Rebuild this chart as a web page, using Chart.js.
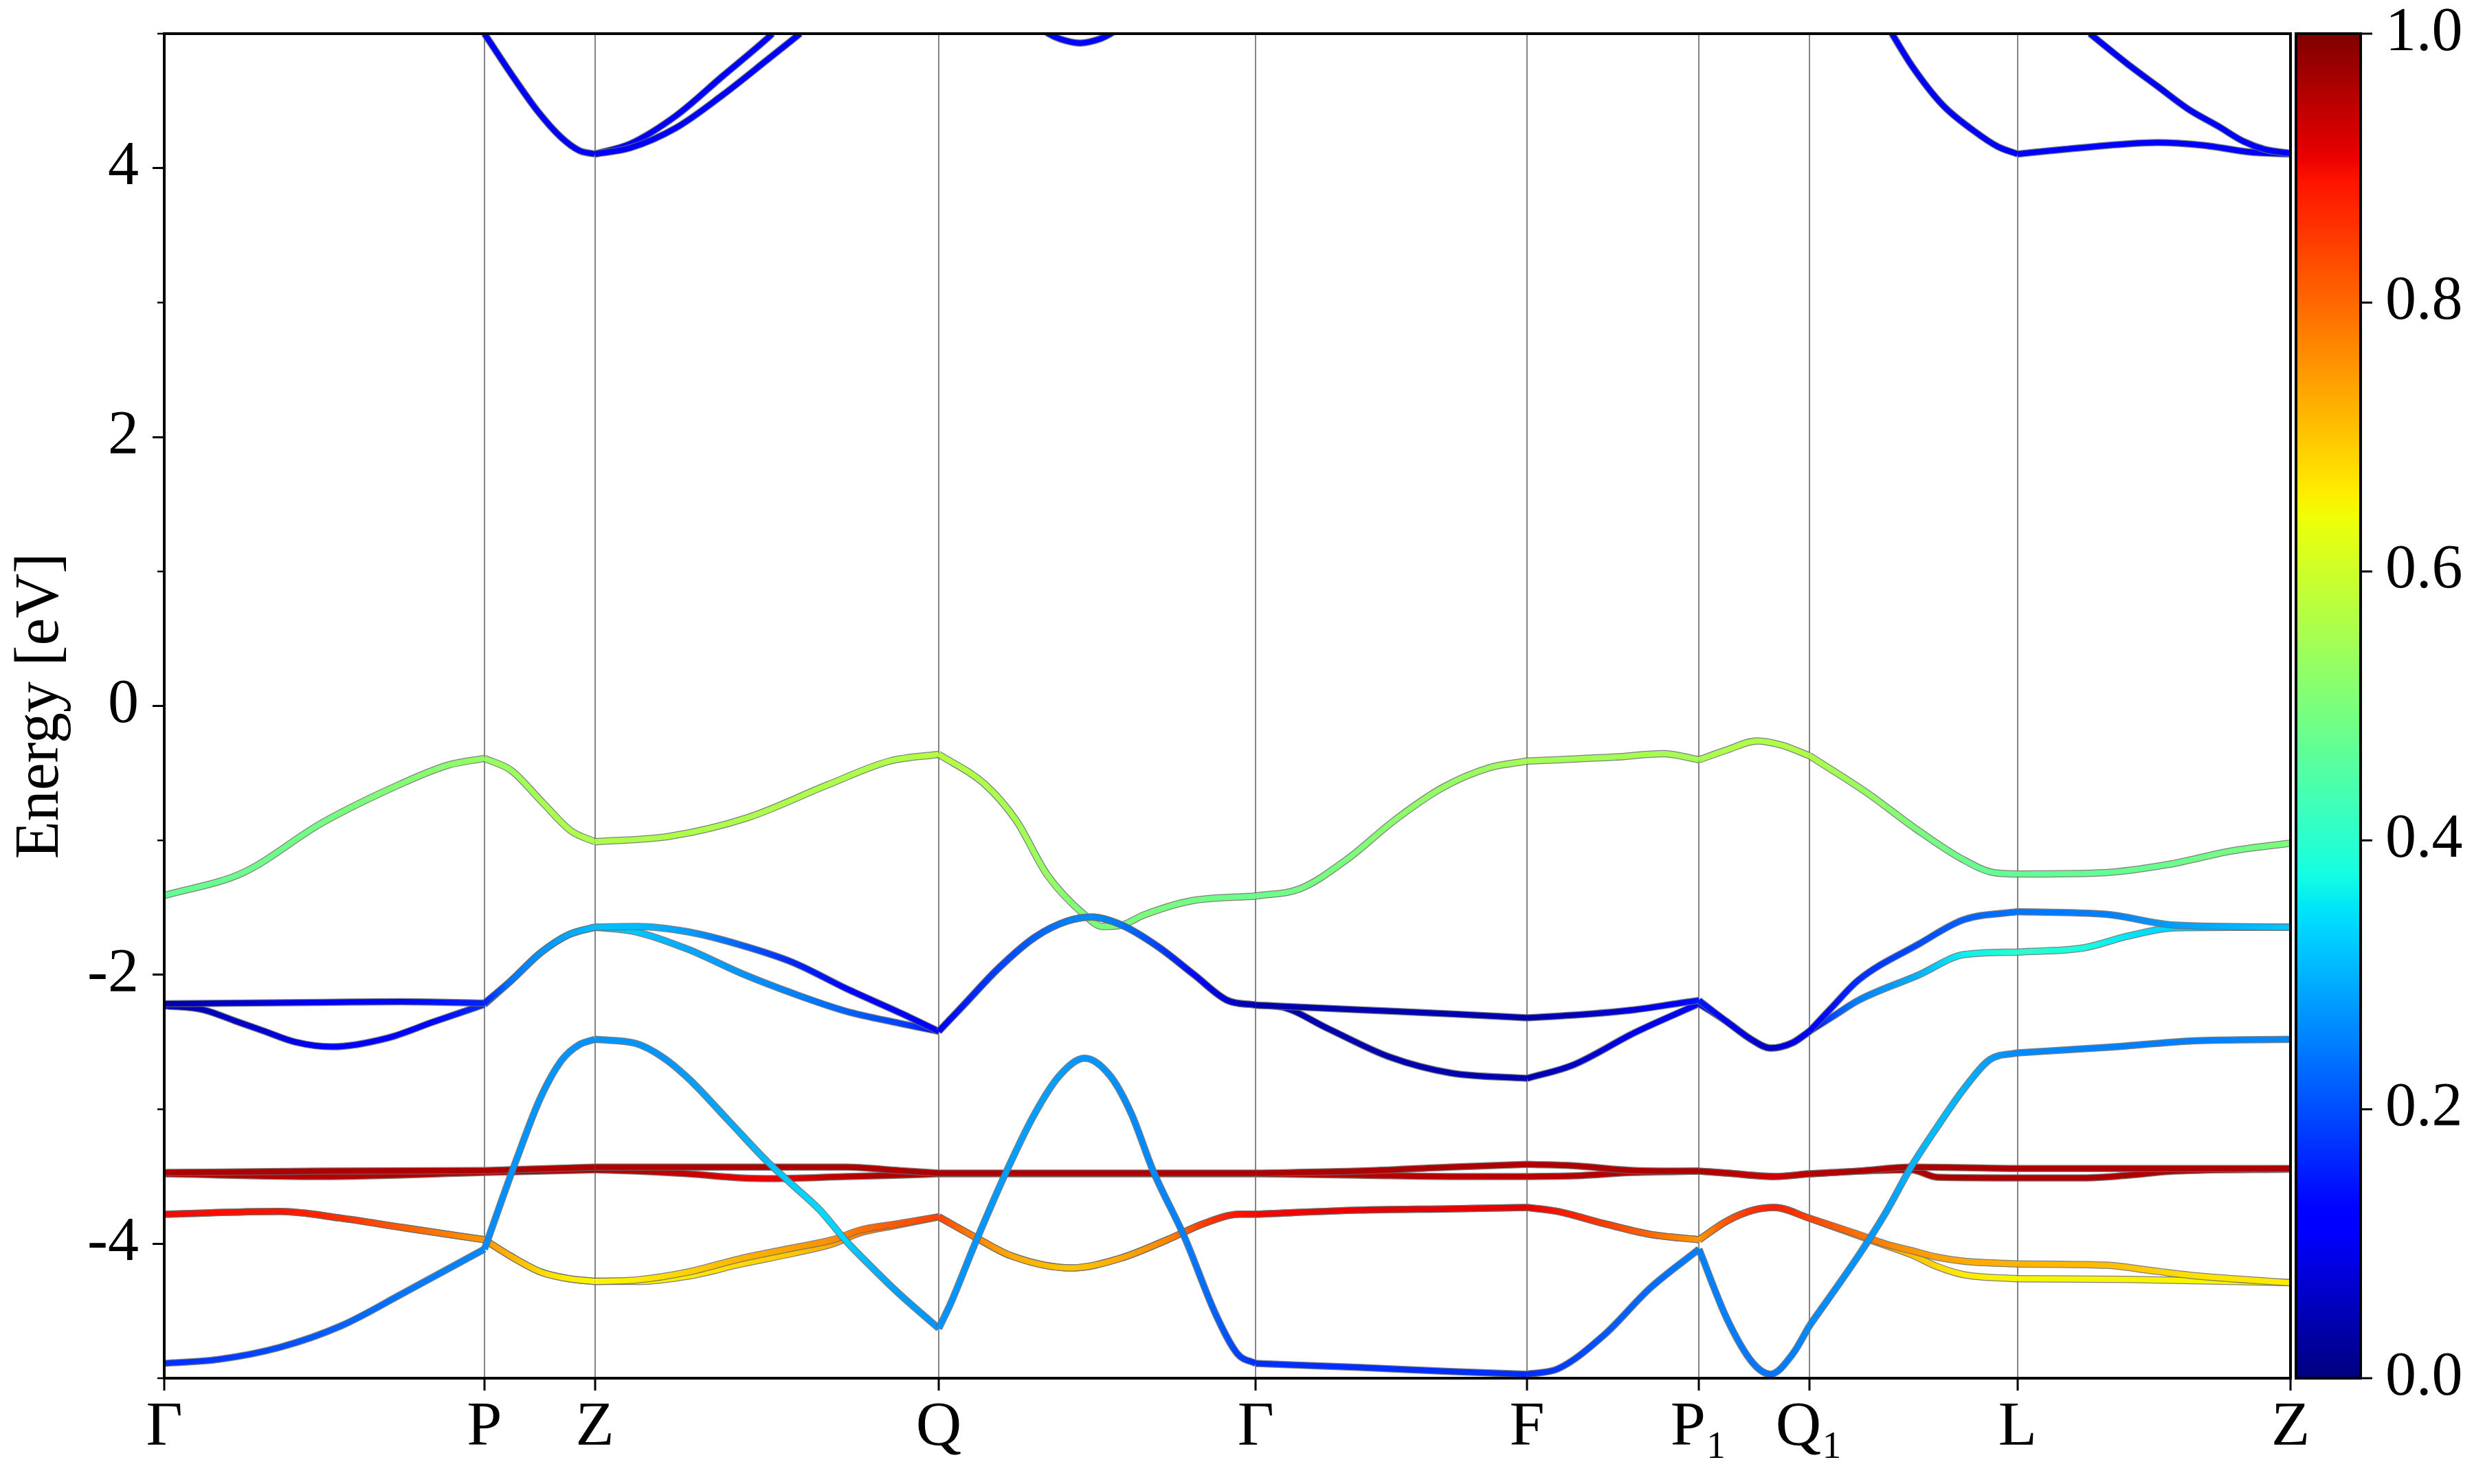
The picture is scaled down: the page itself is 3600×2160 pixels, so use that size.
<!DOCTYPE html>
<html>
<head>
<meta charset="utf-8">
<script src="https://cdn.jsdelivr.net/npm/chart.js@4.4.1/dist/chart.umd.min.js"></script>
<style>
  html, body { margin: 0; padding: 0; background: #fff; }
  #wrap { width: 3600px; height: 2160px; }
</style>
</head>
<body>
<div id="wrap"><canvas id="bands" width="3600" height="2160"></canvas></div>
<script>
// k-path and high-symmetry labels
const kTicks  = [0, 0.203, 0.273, 0.491, 0.692, 0.864, 0.973, 1.043, 1.175, 1.348];
const kLabels = ['Γ', 'P', 'Z', 'Q', 'Γ', 'F', 'P₁', 'Q₁', 'L', 'Z'];
const energyTicks = [-4, -2, 0, 2, 4];
const energyMinor = [-5, -3, -1, 1, 3, 5];
const weightTicks = [0, 0.2, 0.4, 0.6, 0.8, 1.0];

// bands: [k, energy (eV), weight]
const bandT1 = [
  [0.203, 5.00, 0.12], [0.2223, 4.66, 0.12], [0.237, 4.42, 0.12], [0.2515, 4.23, 0.12], [0.2632, 4.13, 0.12], [0.273, 4.105, 0.12],
  [0.2953, 4.18, 0.12], [0.3245, 4.39, 0.12], [0.3536, 4.68, 0.12], [0.3828, 4.97, 0.12], [0.3855, 5.00, 0.12],
];
const bandT2 = [
  [0.273, 4.105, 0.12], [0.2953, 4.15, 0.12], [0.3245, 4.30, 0.12], [0.3536, 4.54, 0.12], [0.3828, 4.81, 0.12], [0.4031, 5.00, 0.12],
];
const bandT3 = [
  [0.556, 5.04, 0.13], [0.5607, 5.00, 0.13], [0.568, 4.96, 0.13], [0.5805, 4.93, 0.13], [0.593, 4.96, 0.13], [0.600, 5.00, 0.13], [0.605, 5.04, 0.13],
];
const bandT4 = [
  [1.0953, 5.00, 0.12], [1.108, 4.76, 0.12], [1.1274, 4.47, 0.12], [1.1469, 4.28, 0.12], [1.1624, 4.16, 0.12], [1.175, 4.105, 0.12],
  [1.2051, 4.14, 0.12], [1.2441, 4.18, 0.12], [1.2635, 4.19, 0.12], [1.2927, 4.17, 0.12], [1.3219, 4.12, 0.12], [1.348, 4.105, 0.12],
];
const bandT5 = [
  [1.2208, 5.00, 0.12], [1.2441, 4.78, 0.12], [1.2635, 4.61, 0.12], [1.283, 4.44, 0.12], [1.3024, 4.31, 0.12], [1.318, 4.20, 0.12],
  [1.3316, 4.14, 0.12], [1.348, 4.11, 0.12],
];
const bandG = [
  [0, -1.41, 0.47], [0.05, -1.24, 0.48], [0.10, -0.87, 0.49], [0.15, -0.58, 0.51], [0.18, -0.44, 0.52], [0.203, -0.39, 0.53],
  [0.22, -0.48, 0.54], [0.24, -0.72, 0.55], [0.258, -0.93, 0.56], [0.273, -1.01, 0.56],
  [0.32, -0.97, 0.56], [0.37, -0.83, 0.56], [0.42, -0.59, 0.56], [0.46, -0.41, 0.56], [0.491, -0.36, 0.57],
  [0.52, -0.58, 0.56], [0.54, -0.85, 0.55], [0.56, -1.26, 0.53], [0.5835, -1.555, 0.50], [0.5946, -1.64, 0.50], [0.607, -1.63, 0.50],
  [0.621, -1.555, 0.50], [0.651, -1.45, 0.49], [0.692, -1.414, 0.48],
  [0.72, -1.36, 0.49], [0.75, -1.14, 0.50], [0.78, -0.85, 0.52], [0.81, -0.61, 0.53], [0.84, -0.46, 0.54], [0.864, -0.41, 0.55],
  [0.92, -0.38, 0.55], [0.95, -0.355, 0.55], [0.973, -0.40, 0.55],
  [0.99, -0.33, 0.56], [1.01, -0.26, 0.56], [1.025, -0.29, 0.56], [1.043, -0.37, 0.56],
  [1.08, -0.65, 0.53], [1.11, -0.91, 0.50], [1.14, -1.14, 0.48], [1.16, -1.24, 0.47], [1.175, -1.25, 0.47],
  [1.23, -1.24, 0.47], [1.27, -1.18, 0.48], [1.31, -1.08, 0.49], [1.348, -1.02, 0.50],
];
const bandD1 = [
  [0, -2.215, 0.04], [0.05, -2.21, 0.07], [0.10, -2.205, 0.10], [0.15, -2.20, 0.13], [0.203, -2.21, 0.16],
  [0.2193, -2.05, 0.24], [0.2387, -1.835, 0.27], [0.2566, -1.70, 0.29], [0.273, -1.645, 0.31],
  [0.299, -1.64, 0.31], [0.332, -1.68, 0.28], [0.366, -1.78, 0.22], [0.399, -1.91, 0.16], [0.432, -2.10, 0.13], [0.466, -2.28, 0.12], [0.491, -2.42, 0.12],
  [0.5064, -2.23, 0.15], [0.529, -1.95, 0.19], [0.552, -1.72, 0.22], [0.5725, -1.60, 0.25], [0.588, -1.57, 0.26], [0.607, -1.63, 0.24],
  [0.630, -1.79, 0.19], [0.653, -2.00, 0.13], [0.674, -2.19, 0.07], [0.692, -2.225, 0.04],
  [0.7572, -2.26, 0.04], [0.8155, -2.29, 0.04], [0.864, -2.32, 0.04], [0.8933, -2.30, 0.05], [0.9322, -2.26, 0.08], [0.961, -2.21, 0.12], [0.973, -2.19, 0.15],
  [0.9908, -2.35, 0.10], [1.0074, -2.49, 0.07], [1.0183, -2.545, 0.06], [1.0324, -2.505, 0.09], [1.043, -2.42, 0.12],
  [1.0578, -2.235, 0.14], [1.074, -2.04, 0.17], [1.1125, -1.77, 0.20], [1.1408, -1.59, 0.22], [1.175, -1.53, 0.24],
  [1.2311, -1.55, 0.25], [1.2747, -1.63, 0.28], [1.348, -1.645, 0.32],
];
const bandD2 = [
  [0, -2.23, 0.04], [0.0248, -2.26, 0.05], [0.0443, -2.34, 0.06], [0.0636, -2.42, 0.07], [0.0832, -2.50, 0.09], [0.1065, -2.535, 0.11],
  [0.1415, -2.47, 0.12], [0.1706, -2.35, 0.13], [0.203, -2.22, 0.17],
  [0.2193, -2.05, 0.24], [0.2387, -1.835, 0.27], [0.2566, -1.70, 0.29], [0.273, -1.645, 0.31],
  [0.299, -1.68, 0.32], [0.332, -1.81, 0.29], [0.366, -1.99, 0.27], [0.399, -2.14, 0.25], [0.432, -2.27, 0.22], [0.466, -2.36, 0.19], [0.491, -2.42, 0.14],
  [0.5064, -2.23, 0.15], [0.529, -1.95, 0.19], [0.552, -1.72, 0.22], [0.5725, -1.60, 0.25], [0.588, -1.57, 0.26], [0.607, -1.63, 0.24],
  [0.630, -1.79, 0.19], [0.653, -2.00, 0.13], [0.674, -2.19, 0.07], [0.692, -2.225, 0.04],
  [0.7087, -2.24, 0.04], [0.7378, -2.40, 0.04], [0.7766, -2.61, 0.04], [0.8155, -2.73, 0.04], [0.864, -2.77, 0.04],
  [0.8933, -2.67, 0.06], [0.9322, -2.43, 0.09], [0.973, -2.215, 0.13],
  [0.9908, -2.35, 0.10], [1.0074, -2.49, 0.07], [1.0183, -2.545, 0.06], [1.0324, -2.505, 0.09], [1.043, -2.42, 0.12],
  [1.0578, -2.31, 0.20], [1.074, -2.19, 0.25], [1.1125, -2.00, 0.30], [1.1408, -1.85, 0.36], [1.175, -1.83, 0.40],
  [1.2166, -1.80, 0.38], [1.2456, -1.71, 0.35], [1.2747, -1.65, 0.33], [1.348, -1.645, 0.32],
];
const bandR1 = [
  [0, -3.47, 0.96], [0.10, -3.46, 0.96], [0.203, -3.455, 0.96],
  [0.273, -3.43, 0.96], [0.38, -3.43, 0.96], [0.4323, -3.43, 0.96], [0.4657, -3.455, 0.96], [0.491, -3.475, 0.96],
  [0.60, -3.475, 0.96], [0.692, -3.475, 0.96],
  [0.7572, -3.46, 0.96], [0.8155, -3.43, 0.96], [0.864, -3.41, 0.96], [0.8933, -3.42, 0.96], [0.9322, -3.455, 0.96], [0.973, -3.46, 0.96],
  [0.9908, -3.475, 0.95], [1.0208, -3.50, 0.93], [1.043, -3.48, 0.95],
  [1.074, -3.46, 0.96], [1.1074, -3.43, 0.96], [1.175, -3.44, 0.96],
  [1.26, -3.44, 0.96], [1.348, -3.44, 0.96],
];
const bandR2 = [
  [0, -3.48, 0.96], [0.10, -3.50, 0.95], [0.203, -3.47, 0.96],
  [0.273, -3.45, 0.96], [0.299, -3.46, 0.95], [0.3323, -3.48, 0.94], [0.3657, -3.51, 0.91], [0.3857, -3.515, 0.91], [0.4323, -3.50, 0.95], [0.4657, -3.49, 0.96], [0.491, -3.48, 0.96],
  [0.60, -3.48, 0.96], [0.692, -3.48, 0.96],
  [0.7572, -3.49, 0.95], [0.8155, -3.50, 0.95], [0.864, -3.50, 0.95], [0.8933, -3.495, 0.95], [0.9322, -3.47, 0.96], [0.973, -3.46, 0.96],
  [0.9908, -3.475, 0.95], [1.0208, -3.50, 0.93], [1.043, -3.48, 0.95],
  [1.074, -3.46, 0.96], [1.1074, -3.45, 0.96], [1.1241, -3.505, 0.96], [1.175, -3.51, 0.96],
  [1.2166, -3.51, 0.96], [1.2456, -3.49, 0.96], [1.2747, -3.46, 0.96], [1.348, -3.445, 0.96],
];
const bandO1 = [
  [0, -3.78, 0.90], [0.0734, -3.76, 0.89], [0.1123, -3.81, 0.86], [0.1512, -3.88, 0.81], [0.203, -3.97, 0.75],
  [0.2193, -4.09, 0.72], [0.2387, -4.21, 0.68], [0.2566, -4.26, 0.66], [0.273, -4.28, 0.65],
  [0.299, -4.27, 0.66], [0.3323, -4.21, 0.69], [0.3657, -4.11, 0.72], [0.399, -4.03, 0.74], [0.424, -3.97, 0.76], [0.4407, -3.90, 0.79], [0.4657, -3.85, 0.82], [0.491, -3.80, 0.84],
  [0.514, -3.95, 0.77], [0.537, -4.09, 0.73], [0.575, -4.18, 0.70], [0.6057, -4.11, 0.73], [0.636, -3.97, 0.77], [0.659, -3.85, 0.85], [0.682, -3.78, 0.89], [0.692, -3.78, 0.90],
  [0.7572, -3.75, 0.91], [0.8155, -3.74, 0.91], [0.864, -3.73, 0.91], [0.8836, -3.76, 0.89], [0.9127, -3.85, 0.85], [0.942, -3.93, 0.80], [0.973, -3.97, 0.75],
  [0.9908, -3.83, 0.82], [1.0074, -3.75, 0.86], [1.0208, -3.73, 0.88], [1.043, -3.81, 0.84],
  [1.074, -3.93, 0.79], [1.0908, -4.00, 0.77], [1.1074, -4.05, 0.75], [1.1241, -4.10, 0.74], [1.1408, -4.13, 0.73], [1.175, -4.15, 0.72],
  [1.2311, -4.16, 0.71], [1.2602, -4.20, 0.69], [1.2892, -4.24, 0.67], [1.348, -4.29, 0.66],
];
const bandO2 = [
  [0, -3.78, 0.90], [0.0734, -3.76, 0.89], [0.1123, -3.81, 0.86], [0.1512, -3.88, 0.81], [0.203, -3.97, 0.75],
  [0.2193, -4.09, 0.72], [0.2387, -4.21, 0.68], [0.2566, -4.26, 0.66], [0.273, -4.28, 0.65],
  [0.299, -4.28, 0.65], [0.3323, -4.24, 0.66], [0.3657, -4.15, 0.68], [0.399, -4.07, 0.70], [0.424, -4.00, 0.73], [0.4407, -3.92, 0.77], [0.4657, -3.86, 0.81], [0.491, -3.80, 0.84],
  [0.514, -3.95, 0.77], [0.537, -4.09, 0.73], [0.575, -4.18, 0.70], [0.6057, -4.11, 0.73], [0.636, -3.97, 0.77], [0.659, -3.85, 0.85], [0.682, -3.78, 0.89], [0.692, -3.78, 0.90],
  [0.7572, -3.75, 0.91], [0.8155, -3.74, 0.91], [0.864, -3.73, 0.91], [0.8836, -3.76, 0.89], [0.9127, -3.85, 0.85], [0.942, -3.93, 0.80], [0.973, -3.97, 0.75],
  [0.9908, -3.83, 0.82], [1.0074, -3.75, 0.86], [1.0208, -3.73, 0.88], [1.043, -3.81, 0.84],
  [1.074, -3.94, 0.77], [1.0908, -4.01, 0.74], [1.1074, -4.08, 0.71], [1.1241, -4.17, 0.68], [1.1408, -4.23, 0.66], [1.175, -4.26, 0.65],
  [1.2456, -4.265, 0.65], [1.348, -4.29, 0.65],
];
const bandB1 = [
  [0, -4.89, 0.17], [0.0345, -4.86, 0.18], [0.0734, -4.77, 0.20], [0.1123, -4.61, 0.22], [0.1512, -4.37, 0.24], [0.203, -4.04, 0.26],
  [0.2231, -3.38, 0.27], [0.2387, -2.91, 0.27], [0.2523, -2.63, 0.27], [0.263, -2.52, 0.27], [0.273, -2.48, 0.27],
  [0.299, -2.51, 0.27], [0.3157, -2.61, 0.27], [0.3323, -2.77, 0.28], [0.3574, -3.08, 0.29], [0.3824, -3.39, 0.31], [0.399, -3.57, 0.33],
  [0.4157, -3.75, 0.34], [0.4323, -3.98, 0.33], [0.449, -4.18, 0.30], [0.4657, -4.37, 0.28], [0.491, -4.63, 0.27],
  [0.4987, -4.44, 0.27], [0.514, -4.00, 0.27], [0.534, -3.46, 0.28], [0.552, -3.03, 0.28], [0.5675, -2.75, 0.28], [0.5835, -2.62, 0.27],
  [0.5996, -2.75, 0.27], [0.613, -3.03, 0.26], [0.627, -3.46, 0.26], [0.6468, -3.95, 0.25], [0.6668, -4.53, 0.22], [0.6805, -4.82, 0.19], [0.692, -4.89, 0.17],
  [0.7572, -4.92, 0.17], [0.8155, -4.95, 0.17], [0.864, -4.97, 0.17], [0.8836, -4.93, 0.18], [0.9127, -4.68, 0.21], [0.942, -4.33, 0.23], [0.973, -4.04, 0.25],
  [0.9908, -4.56, 0.25], [1.0074, -4.89, 0.24], [1.0183, -4.97, 0.24], [1.0324, -4.82, 0.25], [1.043, -4.61, 0.26],
  [1.074, -4.09, 0.27], [1.0908, -3.78, 0.28], [1.1074, -3.43, 0.30], [1.1241, -3.13, 0.31], [1.1408, -2.85, 0.30], [1.1575, -2.63, 0.28], [1.175, -2.58, 0.26],
  [1.2311, -2.54, 0.25], [1.2892, -2.49, 0.25], [1.348, -2.48, 0.26],
];

const FONT = "'Liberation Serif', 'Times New Roman', 'DejaVu Serif', serif";

// matplotlib jet colormap
const JET = {
  r: [[0, 0], [0.35, 0], [0.66, 1], [0.89, 1], [1, 0.5]],
  g: [[0, 0], [0.125, 0], [0.375, 1], [0.64, 1], [0.91, 0], [1, 0]],
  b: [[0, 0.5], [0.11, 1], [0.34, 1], [0.65, 0], [1, 0]],
};
function lerpTable(tab, v) {
  for (let i = 1; i < tab.length; i++) {
    if (v <= tab[i][0]) {
      const [x0, y0] = tab[i - 1], [x1, y1] = tab[i];
      return y0 + (y1 - y0) * (v - x0) / (x1 - x0);
    }
  }
  return tab[tab.length - 1][1];
}
function jet(v) {
  v = Math.min(1, Math.max(0, v));
  const c = ['r', 'g', 'b'].map(ch => Math.round(255 * lerpTable(JET[ch], v)));
  return `rgb(${c[0]},${c[1]},${c[2]})`;
}

// split a band into path segments at the high-symmetry points
function splitAtTicks(band) {
  const pieces = [];
  let cur = [];
  band.forEach(([k, e, w], i) => {
    cur.push({ x: k, y: e, w });
    const atTick = kTicks.some(t => Math.abs(t - k) < 1e-6);
    if (atTick && cur.length > 1 && i < band.length - 1) {
      pieces.push(cur);
      cur = [{ x: k, y: e, w }];
    }
  });
  if (cur.length > 1) pieces.push(cur);
  return pieces;
}

// colour along the line following the weight
function weightGradient(ctx) {
  const chart = ctx.chart;
  const pts = ctx.dataset.data;
  const xs = chart.scales.x;
  if (!chart.chartArea || !xs) return jet(pts[0].w);
  const x0 = xs.getPixelForValue(pts[0].x);
  const x1 = xs.getPixelForValue(pts[pts.length - 1].x);
  if (!(x1 - x0 > 0.5)) return jet(pts[0].w);
  const g = chart.ctx.createLinearGradient(x0, 0, x1, 0);
  pts.forEach(p => {
    const t = (xs.getPixelForValue(p.x) - x0) / (x1 - x0);
    g.addColorStop(Math.min(1, Math.max(0, t)), jet(p.w));
  });
  return g;
}

const paintOrder = [bandT1, bandT2, bandT3, bandT4, bandT5, bandG, bandD2, bandD1, bandR2, bandR1, bandO2, bandO1, bandB1];
const datasets = [];
paintOrder.forEach(band => {
  splitAtTicks(band).forEach(piece => {
    datasets.push({ data: piece, borderColor: 'rgba(105,105,105,0.85)', borderWidth: 10.5 });
    datasets.push({ data: piece, borderColor: weightGradient, borderWidth: 8 });
  });
});
datasets.reverse(); // first dataset is painted last

const frameAndColorbar = {
  id: 'frameAndColorbar',
  afterDraw(chart) {
    const { ctx, chartArea: a, scales: { y } } = chart;
    ctx.save();
    // minor ticks on energy axis
    ctx.strokeStyle = '#000';
    ctx.lineWidth = 2.5;
    energyMinor.forEach(v => {
      const py = y.getPixelForValue(v);
      ctx.beginPath(); ctx.moveTo(a.left - 10, py); ctx.lineTo(a.left, py); ctx.stroke();
    });
    // axes box
    ctx.lineWidth = 4;
    ctx.strokeRect(a.left, a.top, a.right - a.left, a.bottom - a.top);

    // colour bar
    const cbL = a.right + 8, cbR = a.right + 102, cbT = a.top, cbB = a.bottom;
    const grad = ctx.createLinearGradient(0, cbB, 0, cbT);
    for (let i = 0; i <= 100; i++) grad.addColorStop(i / 100, jet(i / 100));
    ctx.fillStyle = grad;
    ctx.fillRect(cbL, cbT, cbR - cbL, cbB - cbT);
    ctx.strokeRect(cbL, cbT, cbR - cbL, cbB - cbT);
    ctx.lineWidth = 3;
    ctx.fillStyle = '#000';
    ctx.font = `90px ${FONT}`;
    ctx.textAlign = 'left';
    ctx.textBaseline = 'middle';
    weightTicks.forEach(v => {
      const py = cbB - v * (cbB - cbT);
      ctx.beginPath(); ctx.moveTo(cbR, py); ctx.lineTo(cbR + 17, py); ctx.stroke();
      ctx.fillText(v.toFixed(1), cbR + 36, py);
    });
    ctx.restore();
  },
};

new Chart(document.getElementById('bands'), {
  type: 'line',
  data: { datasets },
  options: {
    responsive: false,
    animation: false,
    events: [],
    layout: { padding: { left: 0, top: 49, right: 267, bottom: 0 } },
    datasets: {
      line: {
        pointRadius: 0,
        pointHitRadius: 0,
        fill: false,
        cubicInterpolationMode: 'monotone',
        borderCapStyle: 'butt',
        borderJoinStyle: 'round',
        clip: 0,
      },
    },
    plugins: { legend: { display: false }, tooltip: { enabled: false } },
    scales: {
      x: {
        type: 'linear',
        min: 0,
        max: 1.348,
        z: 1,
        afterBuildTicks: s => { s.ticks = kTicks.map(v => ({ value: v })); },
        afterFit: s => { s.height = 154; s.paddingLeft = 0; s.paddingRight = 0; },
        ticks: {
          autoSkip: false, maxRotation: 0, minRotation: 0, padding: 0, color: '#000',
          font: { family: FONT, size: 92 },
          callback: (v, i) => kLabels[i],
        },
        grid: { color: 'rgba(120,120,120,0.9)', lineWidth: 2, tickColor: '#000', tickLength: 18, tickWidth: 3 },
        border: { color: '#000', width: 4 },
      },
      y: {
        min: -5,
        max: 5,
        afterBuildTicks: s => { s.ticks = energyTicks.map(v => ({ value: v })); },
        afterFit: s => { s.width = 239; s.paddingTop = 0; s.paddingBottom = 0; },
        ticks: {
          padding: 20, color: '#000',
          font: { family: FONT, size: 90 },
          callback: v => String(v),
        },
        grid: { drawOnChartArea: false, tickColor: '#000', tickLength: 17, tickWidth: 3 },
        border: { color: '#000', width: 4 },
        title: {
          display: true, text: 'Energy [eV]', color: '#000',
          font: { family: FONT, size: 90 }, padding: { top: 6, bottom: 0 },
        },
      },
    },
  },
  plugins: [frameAndColorbar],
});
</script>
</body>
</html>
